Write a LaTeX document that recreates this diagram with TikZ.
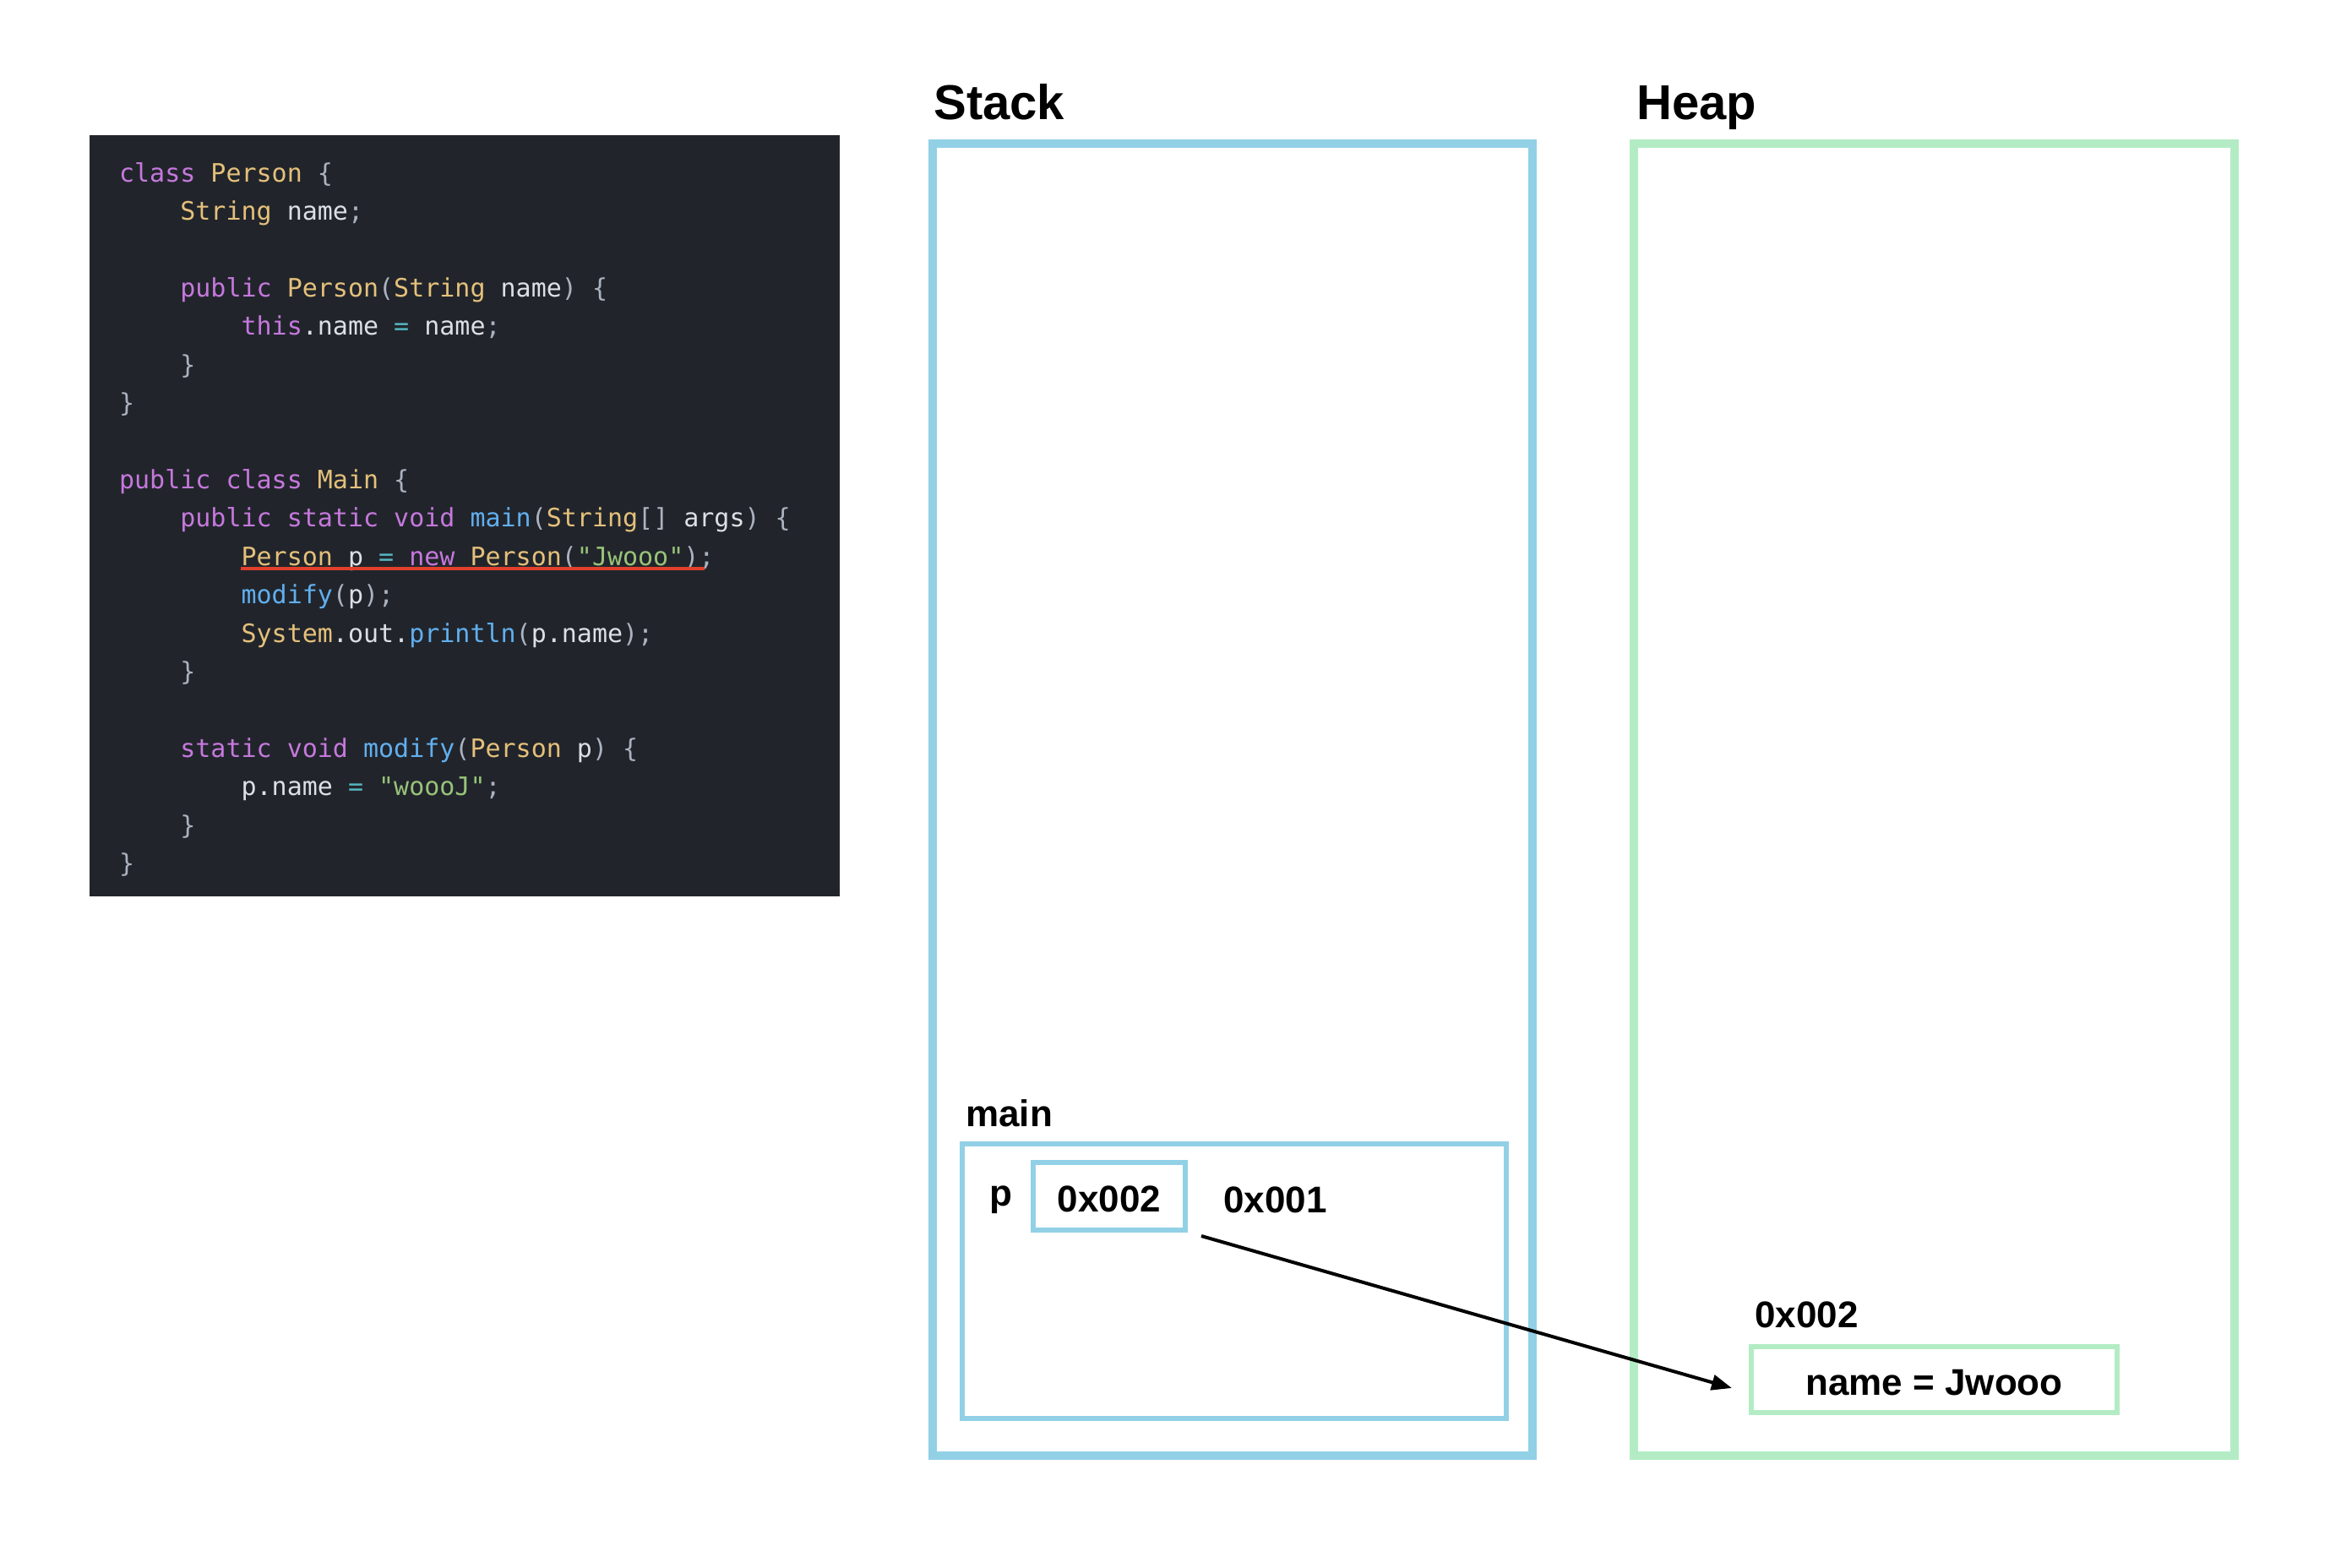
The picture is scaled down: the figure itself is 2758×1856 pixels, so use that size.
\documentclass[tikz,border=0pt]{standalone}
\usepackage{fontspec}
\setmainfont{Liberation Sans}
\newfontfamily\codefont{DejaVu Sans Mono}
\usetikzlibrary{positioning, arrows.meta}

\definecolor{stackblue}{HTML}{92D0E6}
\definecolor{heapgreen}{HTML}{B3ECC4}
\definecolor{codebg}{HTML}{21252B}
\definecolor{ckwc}{HTML}{C678DD}
\definecolor{ctyc}{HTML}{E5C07B}
\definecolor{cfnc}{HTML}{61AFEF}
\definecolor{cstrc}{HTML}{98C379}
\definecolor{copc}{HTML}{56B6C2}
\definecolor{cpnc}{HTML}{ABB2BF}
\definecolor{ctxc}{HTML}{DCDFE4}
\definecolor{markred}{HTML}{E0402C}

\newcommand{\ckw}[1]{\textcolor{ckwc}{#1}}
\newcommand{\cty}[1]{\textcolor{ctyc}{#1}}
\newcommand{\cfn}[1]{\textcolor{cfnc}{#1}}
\newcommand{\cstr}[1]{\textcolor{cstrc}{#1}}
\newcommand{\cop}[1]{\textcolor{copc}{#1}}
\newcommand{\cpn}[1]{\textcolor{cpnc}{#1}}
\newcommand{\ctx}[1]{\textcolor{ctxc}{#1}}
\newcommand{\codeind}{\phantom{xxxx}}
\newcommand{\lowered}[1]{\raisebox{-1.5pt}[\height][0pt]{#1}}

\begin{document}
\begin{tikzpicture}[
  x=0.5pt, y=-0.5pt,
  codepanel/.style={fill=codebg, inner sep=0pt, outer sep=0pt},
  code/.style={align=left, inner sep=0pt, text=ctxc, font=\codefont\fontsize{15}{22.7}\selectfont},
  membox/.style={draw, line width=5pt, inner sep=0pt},
  framebox/.style={draw, line width=3pt, inner sep=0pt},
  title/.style={font=\bfseries\fontsize{29}{34}\selectfont, inner sep=0pt, anchor=base west},
  lbl/.style={font=\bfseries\fontsize{22}{26}\selectfont, inner sep=0pt},
  arr/.style={-{Triangle[length=12pt, width=9pt]}, line width=2pt}
]
  \useasboundingbox (0,0) rectangle (2758,1856);

  % Kod
  \node[codepanel, minimum width=444.2pt, minimum height=450.3pt] (codebox) at (549.7, 610.4) {};
  % base = zadnji redak
  \node[code, anchor=base west] (src) at (140.7, 1032.5) {%
\ckw{class} \cty{Person} \cpn{\{}\\
\codeind\cty{String} \ctx{name}\cpn{;}\\[22.7pt]
\codeind\ckw{public} \cty{Person}\cpn{(}\cty{String} \ctx{name}\cpn{)} \cpn{\{}\\
\codeind\codeind\ckw{this}\ctx{.name} \cop{=} \ctx{name}\cpn{;}\\
\codeind\cpn{\}}\\
\cpn{\}}\\[22.7pt]
\ckw{public} \ckw{class} \cty{Main} \cpn{\{}\\
\codeind\ckw{public} \ckw{static} \ckw{void} \cfn{main}\cpn{(}\cty{String}\cpn{[]} \ctx{args}\cpn{)} \cpn{\{}\\
\codeind\codeind\cty{Person} \ctx{p} \cop{=} \ckw{new} \cty{Person}\cpn{(}\cstr{"Jwooo"}\cpn{);}\\
\codeind\codeind\cfn{modify}\cpn{(}\ctx{p}\cpn{);}\\
\codeind\codeind\cty{System}\ctx{.out.}\cfn{println}\cpn{(}\ctx{p.name}\cpn{);}\\
\codeind\cpn{\}}\\[22.7pt]
\codeind\ckw{static} \ckw{void} \cfn{modify}\cpn{(}\cty{Person} \ctx{p}\cpn{)} \cpn{\{}\\
\codeind\codeind\ctx{p.name} \cop{=} \cstr{"woooJ"}\cpn{;}\\
\codeind\cpn{\}}\\
\cpn{\}}};
  \draw[markred, line width=1.7pt] (285, 673) -- (834, 673);

  % Stack
  \node[membox, draw=stackblue, minimum width=355pt, minimum height=776.5pt] (stack) at (1459, 946.5) {};
  \node[title] (stacklbl) at (1105, 142) {Stack};

  % Heap
  \node[membox, draw=heapgreen, minimum width=355.5pt, minimum height=776.5pt] (heap) at (2289.5, 946.5) {};
  \node[title] (heaplbl) at (1937, 142) {Heap};

  % Okvir main
  \node[framebox, draw=stackblue, minimum width=322pt, minimum height=162.5pt] (mainframe) at (1461, 1516.5) {};
  \node[lbl, anchor=base west] (mainlbl) at (1143, 1333) {main};
  \node[lbl, anchor=base west] (pvar) at (1171, 1427) {p};
  \node[framebox, draw=stackblue, lbl, minimum width=90pt, minimum height=40pt] (pval) at (1313, 1416) {\lowered{0x002}};
  \node[lbl, anchor=base west] (mainaddr) at (1448, 1435) {0x001};

  % Objekt na heapu
  \node[lbl, anchor=base west] (objaddr) at (2077, 1571) {0x002};
  \node[framebox, draw=heapgreen, lbl, minimum width=216.5pt, minimum height=39pt] (namebox) at (2289.5, 1633) {\lowered{name = Jwooo}};

  % Referenca
  \draw[arr] ([shift={(16,4)}]pval.south east) -- ([shift={(-20,10)}]namebox.west);
\end{tikzpicture}
\end{document}
